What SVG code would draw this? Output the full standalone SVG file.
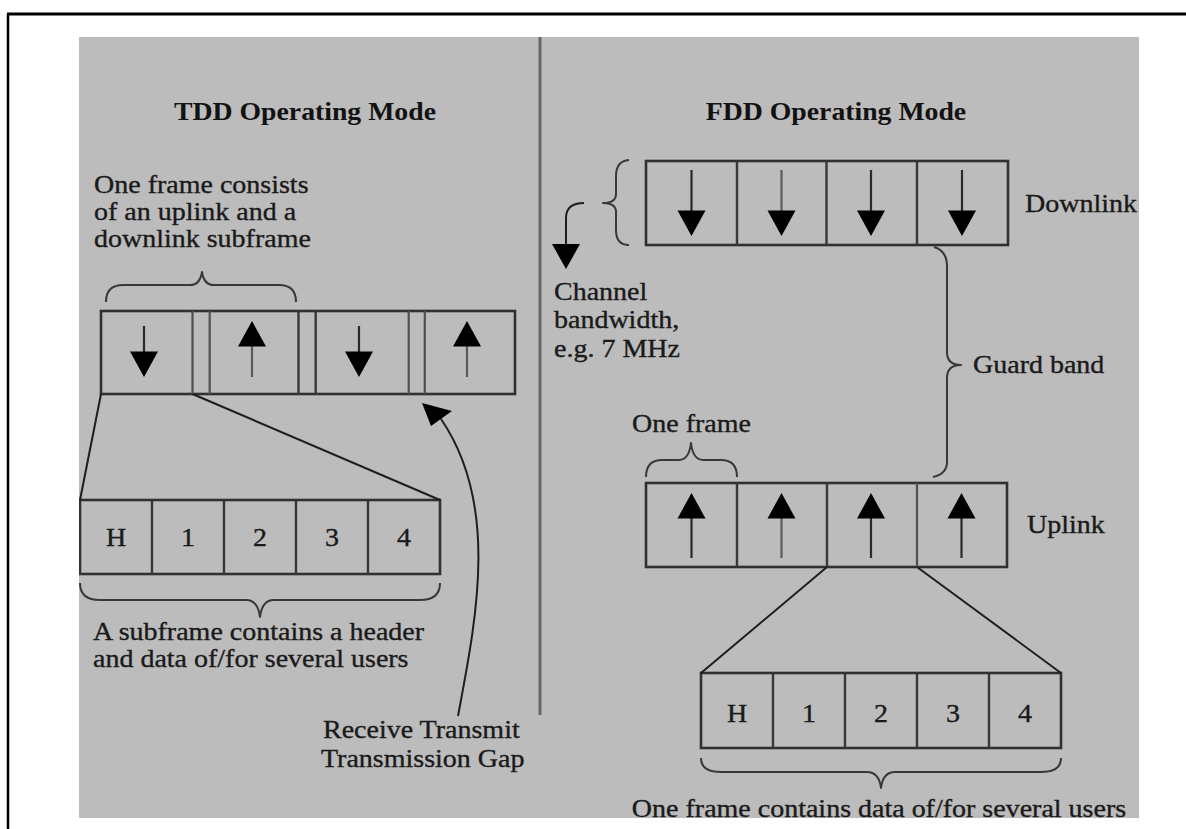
<svg xmlns="http://www.w3.org/2000/svg" width="1186" height="829" viewBox="0 0 1186 829">
  <style>
    .txt { font-family: "Liberation Serif", "Times New Roman", serif; font-size: 25px; fill: #1a1a1a; stroke: #1a1a1a; stroke-width: 0.35; }
    .title { font-family: "Liberation Serif", "Times New Roman", serif; font-size: 26px; font-weight: bold; fill: #121212; text-anchor: middle; }
    .mid { text-anchor: middle; }
    .box { fill: none; stroke: #303030; stroke-width: 2.6; }
    .cell { fill: none; stroke: #383838; stroke-width: 2.4; }
    .cell-lt { fill: none; stroke: #505050; stroke-width: 2.2; }
    .shaft { stroke: #2a2a2a; stroke-width: 2.2; fill: none; }
    .shaft-lt { stroke: #5a5a5a; stroke-width: 2.2; fill: none; }
    .head { fill: #000; stroke: none; }
    .brace { fill: none; stroke: #383838; stroke-width: 2; stroke-linejoin: round; }
    .conn { fill: none; stroke: #1e1e1e; stroke-width: 2; }
  </style>
  <defs>
    <clipPath id="panelClip">
      <rect x="79" y="37" width="1060" height="781"/>
    </clipPath>
    <!-- arrowheads, tip at the origin -->
    <polygon id="headDown" class="head" points="-14,-25.5 14,-25.5 0,0"/>
    <polygon id="headUp" class="head" points="-14,25.5 14,25.5 0,0"/>
  </defs>

  <!-- page and outer frame -->
  <rect x="0" y="0" width="1186" height="829" fill="#fff"/>
  <path d="M7,14 H1186" stroke="#000" stroke-width="3" fill="none"/>
  <path d="M8,14 V829" stroke="#000" stroke-width="2.5" fill="none"/>

  <!-- grey panel and the TDD / FDD divider -->
  <rect id="panel" x="79" y="37" width="1060" height="781" fill="#bcbcbc"/>
  <path id="divider" d="M540,37 V715" stroke="#666" stroke-width="3" fill="none"/>

  <g clip-path="url(#panelClip)">

    <!-- ===== TDD side ===== -->
    <g id="tdd-title">
      <text class="title" transform="translate(305,120) scale(1.067,1)">TDD Operating Mode</text>
    </g>

    <g id="tdd-frame-note">
      <text class="txt" transform="translate(94,193) scale(1.12,1)">One frame consists</text>
      <text class="txt" transform="translate(94,220) scale(1.12,1)">of an uplink and a</text>
      <text class="txt" transform="translate(94,247) scale(1.12,1)">downlink subframe</text>
      <path class="brace" d="M106,302 Q106,285 123,285 L190,285 Q200,285 202,272 Q204,285 214,285 L279,285 Q296,285 296,302"/>
    </g>

    <g id="tdd-frame">
      <rect class="box" x="101" y="311" width="414" height="83"/>
      <path class="cell-lt" d="M192.5,311 V394 M209.7,311 V394 M408.7,311 V394 M424.8,311 V394"/>
      <path class="cell" d="M298.5,311 V394 M315.7,311 V394"/>
      <!-- downlink / uplink subframes -->
      <path class="shaft" d="M144,326 V353 M359,326 V353"/>
      <path class="shaft-lt" d="M252,377 V345 M467,377 V345"/>
      <use href="#headDown" x="144" y="377"/>
      <use href="#headUp" x="252" y="321"/>
      <use href="#headDown" x="359" y="377"/>
      <use href="#headUp" x="467" y="321"/>
    </g>

    <g id="tdd-subframe">
      <rect class="box" x="80" y="500" width="360" height="74"/>
      <path class="cell" d="M152,500 V574 M224,500 V574 M296,500 V574 M368,500 V574"/>
      <text class="txt mid" transform="translate(116,546) scale(1.12,1)">H</text>
      <text class="txt mid" transform="translate(188,546) scale(1.12,1)">1</text>
      <text class="txt mid" transform="translate(260,546) scale(1.12,1)">2</text>
      <text class="txt mid" transform="translate(332,546) scale(1.12,1)">3</text>
      <text class="txt mid" transform="translate(404,546) scale(1.12,1)">4</text>
    </g>

    <g id="tdd-subframe-note">
      <path class="brace" d="M80,583 Q80,600 100,600 L246,600 Q258,600 260,617 Q262,600 274,600 L420,600 Q440,600 440,583"/>
      <text class="txt" transform="translate(93,640) scale(1.12,1)">A subframe contains a header</text>
      <text class="txt" transform="translate(93,667) scale(1.12,1)">and data of/for several users</text>
    </g>

    <g id="tdd-gap-note">
      <text class="txt" transform="translate(323,738) scale(1.12,1)">Receive Transmit</text>
      <text class="txt" transform="translate(321,767) scale(1.12,1)">Transmission Gap</text>
    </g>

    <!-- ===== FDD side ===== -->
    <g id="fdd-title">
      <text class="title" transform="translate(836,120) scale(1.067,1)">FDD Operating Mode</text>
    </g>

    <g id="fdd-downlink">
      <rect class="box" x="646" y="161" width="362" height="84"/>
      <path class="cell" d="M737,161 V245 M826.5,161 V245 M917,161 V245"/>
      <path class="shaft" d="M691.5,170 V212 M871,170 V212 M962,170 V212"/>
      <path class="shaft-lt" d="M781.5,170 V212"/>
      <use href="#headDown" x="691.5" y="236"/>
      <use href="#headDown" x="781.5" y="236"/>
      <use href="#headDown" x="871" y="236"/>
      <use href="#headDown" x="962" y="236"/>
      <text class="txt" transform="translate(1025,212) scale(1.12,1)">Downlink</text>
    </g>

    <g id="fdd-channel">
      <path class="brace" d="M629,160 Q616,161 616,176 L616,194 Q616,203 603,203 Q616,203 616,212 L616,230 Q616,245 629,245"/>
      <text class="txt" transform="translate(554,300) scale(1.12,1)">Channel</text>
      <text class="txt" transform="translate(554,328) scale(1.12,1)">bandwidth,</text>
      <text class="txt" transform="translate(554,357) scale(1.12,1)">e.g. 7 MHz</text>
    </g>

    <g id="fdd-guard">
      <path class="brace" d="M934,247 Q947,251 947,266 L947,352 Q947,365 961,365 Q947,365 947,378 L947,462 Q947,474 933,477"/>
      <text class="txt" transform="translate(973,373) scale(1.12,1)">Guard band</text>
    </g>

    <g id="fdd-frame-note">
      <text class="txt" transform="translate(632,432) scale(1.12,1)">One frame</text>
      <path class="brace" d="M646,477 Q646,460 662,460 L679,460 Q689,460 691,443 Q693,460 703,460 L721,460 Q737,460 737,477"/>
    </g>

    <g id="fdd-uplink">
      <rect class="box" x="646" y="483" width="361" height="84"/>
      <path class="cell" d="M737,483 V567 M827,483 V567"/>
      <path class="cell-lt" d="M917,483 V567"/>
      <path class="shaft" d="M691.5,558 V517 M871,558 V517 M961.5,558 V517"/>
      <path class="shaft-lt" d="M781.5,558 V517"/>
      <use href="#headUp" x="691.5" y="493"/>
      <use href="#headUp" x="781.5" y="493"/>
      <use href="#headUp" x="871" y="493"/>
      <use href="#headUp" x="961.5" y="493"/>
      <text class="txt" transform="translate(1027,533) scale(1.12,1)">Uplink</text>
    </g>

    <g id="fdd-frame-detail">
      <rect class="box" x="701" y="673" width="360" height="75"/>
      <path class="cell" d="M773,673 V748 M845,673 V748 M917,673 V748 M989,673 V748"/>
      <text class="txt mid" transform="translate(737,722) scale(1.12,1)">H</text>
      <text class="txt mid" transform="translate(809,722) scale(1.12,1)">1</text>
      <text class="txt mid" transform="translate(881,722) scale(1.12,1)">2</text>
      <text class="txt mid" transform="translate(953,722) scale(1.12,1)">3</text>
      <text class="txt mid" transform="translate(1025,722) scale(1.12,1)">4</text>
    </g>

    <g id="fdd-frame-detail-note">
      <path class="brace" d="M701,758 Q701,772 721,772 L867,772 Q879,772 881,788 Q883,772 895,772 L1041,772 Q1061,772 1061,758"/>
      <text class="txt mid" transform="translate(879,817) scale(1.12,1)">One frame contains data of/for several users</text>
    </g>

    <!-- ===== connectors ===== -->
    <g id="connectors">
      <!-- TDD: downlink subframe expanded -->
      <path class="conn" d="M101,394 L80,500"/>
      <path class="conn" d="M192.5,394 L440,500"/>
      <!-- TDD: pointer to the transmission gap -->
      <path class="conn" d="M458,716 C476,620 500,505 441,419"/>
      <polygon class="head" points="422,403 452,411 431,426"/>
      <!-- FDD: channel bandwidth pointer -->
      <path class="conn" d="M584,203 Q566,203 566,218 L566,246"/>
      <polygon class="head" points="552,244 580,244 566,269"/>
      <!-- FDD: one uplink frame expanded -->
      <path class="conn" d="M827,567 L701,673"/>
      <path class="conn" d="M917,567 L1061,673"/>
    </g>
  </g>
</svg>
